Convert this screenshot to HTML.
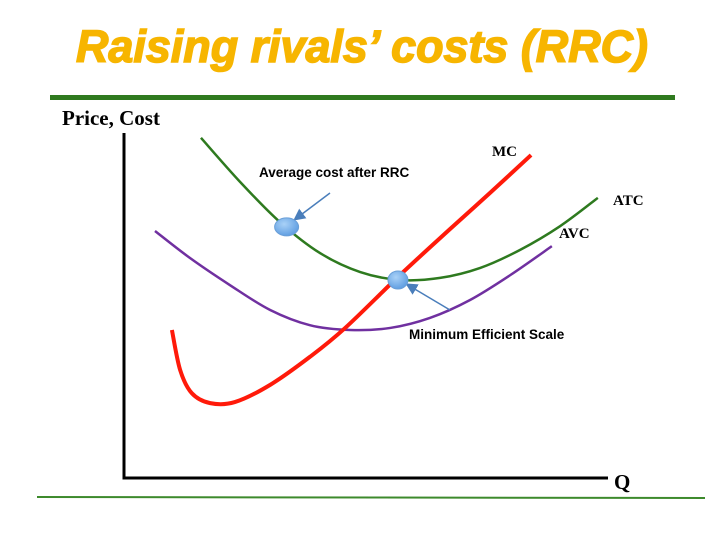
<!DOCTYPE html>
<html><head><meta charset="utf-8"><style>
body{margin:0;background:#fff;}
svg{display:block;}
</style></head><body>
<svg id="chart" width="720" height="540" viewBox="0 0 720 540">
<text x="362" y="62" text-anchor="middle" textLength="572" lengthAdjust="spacingAndGlyphs" font-family="Liberation Sans, sans-serif" font-size="45" font-weight="bold" font-style="italic" fill="#f7b500" stroke="#f7b500" stroke-width="1.5">Raising rivals’ costs (RRC)</text>
<rect x="50" y="95" width="625" height="5" fill="#2f7a1f"/>
<line x1="37" y1="497" x2="705" y2="498" stroke="#3d8a2c" stroke-width="2"/>
<text x="62" y="125" font-family="Liberation Serif, serif" font-size="21" font-weight="bold" fill="#000">Price, Cost</text>
<text x="614" y="489" font-family="Liberation Serif, serif" font-size="21" font-weight="bold" fill="#000">Q</text>
<g id="plot"></g>
</svg>
<script>
const atcQ=[15.9,24.0,32.2,40.5,48.8,57.0,65.3,73.6,81.8,90.1,97.9];
const atcC=[98.6,85.8,74.2,65.2,59.7,57.4,58.0,60.9,66.1,73.0,81.2];
const avcQ=[6.4,13.6,21.9,30.2,38.4,46.7,55.0,63.2,71.5,79.8,88.4];
const avcC=[71.6,63.8,55.9,48.7,44.3,42.9,43.5,46.4,51.6,58.8,67.2];
const mcQ=[9.9,11.6,14.0,17.8,22.9,30.2,38.4,45.7,57.0,67.4,75.6,84.1];
const mcC=[42.9,31.3,24.6,21.7,22.0,27.0,35.1,43.5,58.8,72.2,82.6,93.6];
const markQ=[33.6,56.6];
const markC=[72.8,57.4];

const X0=124,Y0=478;
const xs=q=>X0+q*4.84;
const ys=c=>Y0-c*3.45;
const NS='http://www.w3.org/2000/svg';
const g=document.getElementById('plot');
function mk(t,a){const e=document.createElementNS(NS,t);for(const k in a)e.setAttribute(k,a[k]);g.appendChild(e);return e;}
function smooth(qs,cs){const p=qs.map((q,i)=>[xs(q),ys(cs[i])]);let d='M'+p[0][0]+' '+p[0][1];
for(let i=0;i<p.length-1;i++){const a=p[Math.max(0,i-1)],b=p[i],c=p[i+1],e=p[Math.min(p.length-1,i+2)];
d+=` C${b[0]+(c[0]-a[0])/6} ${b[1]+(c[1]-a[1])/6} ${c[0]-(e[0]-b[0])/6} ${c[1]-(e[1]-b[1])/6} ${c[0]} ${c[1]}`;}return d;}

const ax=mk('path',{d:`M${X0} 133 L${X0} ${Y0} L608 ${Y0}`,stroke:'#000','stroke-width':3,fill:'none'});


const avc=mk('path',{d:smooth(avcQ,avcC),stroke:'#7030a0','stroke-width':2.5,fill:'none'});


const atc=mk('path',{d:smooth(atcQ,atcC),stroke:'#2e7a1f','stroke-width':2.5,fill:'none'});


const mc=mk('path',{d:smooth(mcQ,mcC),stroke:'#ff1a0a','stroke-width':4,fill:'none'});



const defs=document.createElementNS(NS,'defs');
defs.innerHTML='<radialGradient id="bg" cx="40%" cy="35%" r="70%"><stop offset="0" stop-color="#a9d1f7"/><stop offset="1" stop-color="#5b9be0"/></radialGradient><marker id="ah" markerWidth="8" markerHeight="8" refX="6" refY="4" orient="auto"><path d="M0 0 L8 4 L0 8 Z" fill="#4a7ebb"/></marker>';
document.getElementById('chart').appendChild(defs);

const arrows=[[330,193],[450,310]];
markQ.forEach((q,i)=>{
  const cx=xs(q),cy=ys(markC[i]);
  const ar=mk('line',{x1:arrows[i][0],y1:arrows[i][1],x2:cx+(i?10:9),y2:cy+(i?5:-8),stroke:'#4a7ebb','stroke-width':1.5,'marker-end':'url(#ah)'});
  
  
  const el=mk('ellipse',{cx:cx,cy:cy,rx:i?10:12,ry:9,fill:'url(#bg)',stroke:'#6a9fd8','stroke-width':1});
  
  
});

function txt(x,y,s,fam,size,name){const t=mk('text',{x:x,y:y,'font-family':fam,'font-size':size,'font-weight':'bold',fill:'#000'});t.textContent=s;

}
const sans='Liberation Sans, sans-serif',serif='Liberation Serif, serif';
txt(259,177,'Average cost after RRC',sans,13.5,'annotation-avg-cost');
txt(409,339,'Minimum Efficient Scale',sans,13.5,'annotation-mes');
txt(492,156,'MC',serif,15,'mc-label');
txt(613,205,'ATC',serif,15,'atc-label');
txt(559,238,'AVC',serif,15,'avc-label');
</script>
</body></html>
